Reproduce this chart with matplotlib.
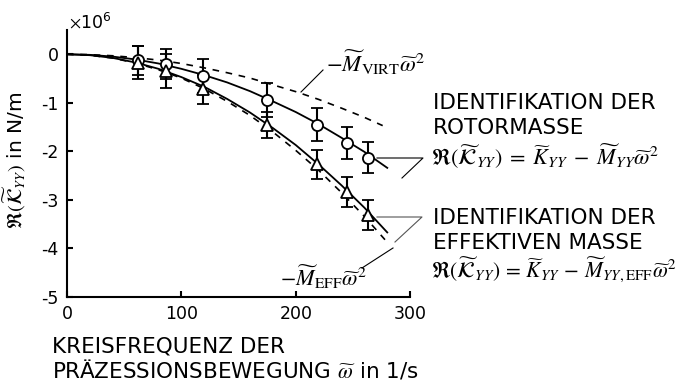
import matplotlib
matplotlib.use('Agg')
import matplotlib.pyplot as plt
from matplotlib.lines import Line2D

plt.rcParams['mathtext.fontset'] = 'stix'
plt.rcParams['font.family'] = ['DejaVu Sans']

# Messpunkte (Werte in 1e6 N/m)
omega = [62, 87, 119, 175, 219, 245, 263]
rotor_val = [-0.12, -0.20, -0.45, -0.95, -1.45, -1.82, -2.13]
rotor_err = [0.30, 0.30, 0.35, 0.35, 0.34, 0.33, 0.32]
eff_val = [-0.17, -0.35, -0.72, -1.45, -2.27, -2.83, -3.31]
eff_err = [0.33, 0.35, 0.30, 0.27, 0.30, 0.31, 0.30]

# Kurven
curve_x = [0, 20, 40, 60, 80, 100, 120, 140, 160, 180, 200, 220, 240, 260, 280]
rotor_fit = [0, -0.012, -0.048, -0.107, -0.19, -0.30, -0.43, -0.58, -0.76, -0.97, -1.19, -1.44, -1.72, -2.01, -2.34]
eff_fit = [0, -0.019, -0.075, -0.17, -0.30, -0.47, -0.67, -0.92, -1.20, -1.52, -1.87, -2.27, -2.70, -3.16, -3.67]
virt_x = [0, 20, 40, 60, 80, 100, 120, 140, 160, 180, 200, 220, 240, 260, 276]
virt_curve = [0, -0.008, -0.031, -0.069, -0.12, -0.19, -0.28, -0.38, -0.49, -0.63, -0.77, -0.93, -1.11, -1.30, -1.47]
meff_x = [0, 20, 40, 60, 80, 100, 120, 140, 160, 180, 200, 220, 240, 260, 278]
meff_curve = [0, -0.02, -0.079, -0.18, -0.32, -0.49, -0.71, -0.97, -1.26, -1.60, -1.98, -2.39, -2.85, -3.34, -3.82]

fig = plt.figure(figsize=(6.87, 3.85), dpi=100)
ax = fig.add_axes([0.0975, 0.2286, 0.4995, 0.6935])

ax.plot(virt_x, virt_curve, '--', color='black', lw=1.2, dashes=(4, 4))
ax.plot(meff_x, meff_curve, '--', color='black', lw=1.2, dashes=(4, 4))
ax.plot(curve_x, rotor_fit, '-', color='black', lw=1.3)
ax.plot(curve_x, eff_fit, '-', color='black', lw=1.3)

ax.errorbar(omega, rotor_val, yerr=rotor_err, fmt='o', color='black', mfc='white',
            ms=8, mew=1.3, elinewidth=1.5, capsize=4, capthick=1.5)
ax.errorbar(omega, eff_val, yerr=eff_err, fmt='^', color='black', mfc='white',
            ms=9, mew=1.3, elinewidth=1.5, capsize=4, capthick=1.5)

ax.set_xlim(0, 300)
ax.set_ylim(-5, 0.5)
ax.set_xticks([0, 100, 200, 300])
ax.set_yticks([0, -1, -2, -3, -4, -5])
ax.set_yticklabels(['0', '-1', '-2', '-3', '-4', '-5'])
for s in ['top', 'right']:
    ax.spines[s].set_visible(False)
for s in ['left', 'bottom']:
    ax.spines[s].set_linewidth(1.5)
ax.tick_params(direction='in', length=4, width=1.5, labelsize=12.5, pad=6)

fig.text(0.1, 0.945, r'$\times\mathregular{10^6}$', fontsize=12.5, va='center')
fig.text(0.021, 0.584, r'$\Re(\widetilde{\mathcal{K}}_{YY})$ in N/m', rotation=90,
         fontsize=14.5, va='center', ha='center')
fig.text(0.076, 0.099, 'KREISFREQUENZ DER', fontsize=15.5, va='center')
fig.text(0.076, 0.039, r'PRÄZESSIONSBEWEGUNG $\widetilde{\omega}$ in 1/s', fontsize=15.5, va='center')

W, H = 687.0, 385.0
def px(x, y):
    return x / W, 1 - y / H

# Beschriftungen der Kurven
fig.text(*px(326, 63), r'$-\widetilde{M}_{\mathrm{VIRT}}\widetilde{\omega}^2$', fontsize=16.5, va='center')
fig.add_artist(Line2D([323 / W, 301 / W], [1 - 70 / H, 1 - 92 / H], color='black', lw=0.8))
fig.text(*px(280, 277), r'$-\widetilde{M}_{\mathrm{EFF}}\widetilde{\omega}^2$', fontsize=16, va='center')
fig.add_artist(Line2D([393 / W, 362 / W], [1 - 248 / H, 1 - 268 / H], color='black', lw=0.8))

# Verbindungslinien
fig.add_artist(Line2D([377 / W, 423 / W, 402 / W], [1 - 158 / H, 1 - 158 / H, 1 - 178 / H], color='black', lw=0.8))
fig.add_artist(Line2D([377 / W, 422 / W, 395 / W], [1 - 217 / H, 1 - 217 / H, 1 - 242 / H], color='#555555', lw=0.8))

fig.text(*px(433, 103), 'IDENTIFIKATION DER', fontsize=15.5, va='center')
fig.text(*px(433, 128), 'ROTORMASSE', fontsize=15.5, va='center')
fig.text(*px(431, 157), r'$\Re(\widetilde{\mathcal{K}}_{YY})\;=\;\widetilde{K}_{YY}\;-\;\widetilde{M}_{YY}\widetilde{\omega}^2$',
         fontsize=16, va='center')
fig.text(*px(433, 218), 'IDENTIFIKATION DER', fontsize=15.5, va='center')
fig.text(*px(433, 243), 'EFFEKTIVEN MASSE', fontsize=15.5, va='center')
fig.text(*px(431, 270), r'$\Re(\widetilde{\mathcal{K}}_{YY})\,=\,\widetilde{K}_{YY}\,-\,\widetilde{M}_{YY,\mathrm{EFF}}\widetilde{\omega}^2$',
         fontsize=15.5, va='center')

fig.savefig('out.png', dpi=100)
